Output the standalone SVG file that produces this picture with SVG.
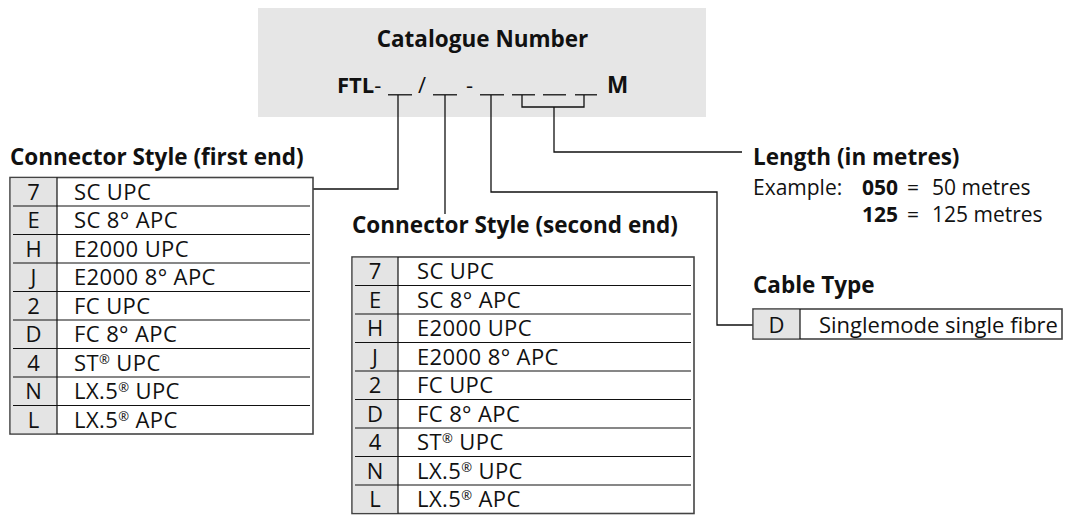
<svg xmlns="http://www.w3.org/2000/svg" width="1077" height="515" viewBox="0 0 1077 515">
<style>
text{font-family:"Open Sans","DejaVu Sans",sans-serif;fill:#111}
.h{font-size:22.5px;font-weight:700}
.t{font-size:22px;font-weight:400;letter-spacing:0.4px}
.c{font-size:22px;font-weight:400;text-anchor:middle}
.e{font-size:21px;font-weight:400}
.b{font-weight:700}
.box{fill:#fff;stroke:#444;stroke-width:1.6}
.code{fill:#e4e4e4}
.sep{stroke:#111;stroke-width:1.2;fill:none}
.ln{stroke:#111;stroke-width:1.3;fill:none}
.reg{font-size:13px}
</style>
<rect x="0" y="0" width="1077" height="515" fill="#fff"/>
<g id="catalogue">
<rect x="258" y="8" width="448" height="109" fill="#e6e6e6"/>
<text class="h" x="482.5" y="46.5" text-anchor="middle">Catalogue Number</text>
<text class="t" x="337" y="93" style="letter-spacing:0"><tspan class="b">FTL</tspan>-</text>
<text class="t" x="418" y="93">/</text>
<text class="t" x="466" y="93">-</text>
<text class="h" x="607" y="93">M</text>
<g class="ln">
<line x1="388" y1="94.8" x2="412" y2="94.8"/>
<line x1="433" y1="94.8" x2="457" y2="94.8"/>
<line x1="480" y1="94.8" x2="504" y2="94.8"/>
<line x1="512" y1="94.8" x2="535" y2="94.8"/>
<line x1="543" y1="94.8" x2="566" y2="94.8"/>
<line x1="575" y1="94.8" x2="597" y2="94.8"/>
</g>
</g>
<g id="connectors" class="ln">
<polyline points="398,95 398,189 313,189"/>
<polyline points="445,95 445,214"/>
<polyline points="491,95 491,192 717,192 717,325 753,325"/>
<polyline points="522,95 522,107 584,107 584,95"/>
<polyline points="554,107 554,152 742,152"/>
</g>
<g id="first-end">
<text class="h" x="10" y="164.5">Connector Style (first end)</text>
<rect class="box" x="10" y="177.5" width="303" height="256.5"/>
<rect class="code" x="10.8" y="178.3" width="46.2" height="254.9"/>
<line class="sep" x1="57" y1="177.5" x2="57" y2="434"/>
<g class="sep">
<line x1="13" y1="206" x2="310" y2="206"/>
<line x1="13" y1="234.5" x2="310" y2="234.5"/>
<line x1="13" y1="263" x2="310" y2="263"/>
<line x1="13" y1="291.5" x2="310" y2="291.5"/>
<line x1="13" y1="320" x2="310" y2="320"/>
<line x1="13" y1="348.5" x2="310" y2="348.5"/>
<line x1="13" y1="377" x2="310" y2="377"/>
<line x1="13" y1="405.5" x2="310" y2="405.5"/>
</g>
<text class="c" x="33.5" y="199.5">7</text>
<text class="c" x="33.5" y="228">E</text>
<text class="c" x="33.5" y="256.5">H</text>
<text class="c" x="33.5" y="285">J</text>
<text class="c" x="33.5" y="313.5">2</text>
<text class="c" x="33.5" y="342">D</text>
<text class="c" x="33.5" y="370.5">4</text>
<text class="c" x="33.5" y="399">N</text>
<text class="c" x="33.5" y="427.5">L</text>
<text class="t" x="74" y="199.5">SC UPC</text>
<text class="t" x="74" y="228">SC 8° APC</text>
<text class="t" x="74" y="256.5">E2000 UPC</text>
<text class="t" x="74" y="285">E2000 8° APC</text>
<text class="t" x="74" y="313.5">FC UPC</text>
<text class="t" x="74" y="342">FC 8° APC</text>
<text class="t" x="74" y="370.5">ST<tspan class="reg" dy="-7">®</tspan><tspan dy="7"> UPC</tspan></text>
<text class="t" x="74" y="399">LX.5<tspan class="reg" dy="-7">®</tspan><tspan dy="7"> UPC</tspan></text>
<text class="t" x="74" y="427.5">LX.5<tspan class="reg" dy="-7">®</tspan><tspan dy="7"> APC</tspan></text>
</g>
<g id="second-end">
<text class="h" x="352" y="233">Connector Style (second end)</text>
<rect class="box" x="352" y="257" width="342" height="256.5"/>
<rect class="code" x="352.8" y="257.8" width="45.2" height="254.9"/>
<line class="sep" x1="398" y1="257" x2="398" y2="513.5"/>
<g class="sep">
<line x1="355" y1="285.5" x2="691" y2="285.5"/>
<line x1="355" y1="314" x2="691" y2="314"/>
<line x1="355" y1="342.5" x2="691" y2="342.5"/>
<line x1="355" y1="371" x2="691" y2="371"/>
<line x1="355" y1="399.5" x2="691" y2="399.5"/>
<line x1="355" y1="428" x2="691" y2="428"/>
<line x1="355" y1="456.5" x2="691" y2="456.5"/>
<line x1="355" y1="485" x2="691" y2="485"/>
</g>
<text class="c" x="375" y="279">7</text>
<text class="c" x="375" y="307.5">E</text>
<text class="c" x="375" y="336">H</text>
<text class="c" x="375" y="364.5">J</text>
<text class="c" x="375" y="393">2</text>
<text class="c" x="375" y="421.5">D</text>
<text class="c" x="375" y="450">4</text>
<text class="c" x="375" y="478.5">N</text>
<text class="c" x="375" y="507">L</text>
<text class="t" x="417" y="279">SC UPC</text>
<text class="t" x="417" y="307.5">SC 8° APC</text>
<text class="t" x="417" y="336">E2000 UPC</text>
<text class="t" x="417" y="364.5">E2000 8° APC</text>
<text class="t" x="417" y="393">FC UPC</text>
<text class="t" x="417" y="421.5">FC 8° APC</text>
<text class="t" x="417" y="450">ST<tspan class="reg" dy="-7">®</tspan><tspan dy="7"> UPC</tspan></text>
<text class="t" x="417" y="478.5">LX.5<tspan class="reg" dy="-7">®</tspan><tspan dy="7"> UPC</tspan></text>
<text class="t" x="417" y="507">LX.5<tspan class="reg" dy="-7">®</tspan><tspan dy="7"> APC</tspan></text>
</g>
<g id="length">
<text class="h" x="753" y="165">Length (in metres)</text>
<text class="e" x="753" y="195">Example:</text>
<text class="e" x="862" y="195"><tspan class="b">050</tspan><tspan x="907">=</tspan><tspan x="932">50 metres</tspan></text>
<text class="e" x="862" y="221.5"><tspan class="b">125</tspan><tspan x="907">=</tspan><tspan x="932">125 metres</tspan></text>
</g>
<g id="cable-type">
<text class="h" x="753" y="293">Cable Type</text>
<rect class="box" x="753" y="309" width="309" height="30"/>
<rect class="code" x="753.8" y="309.8" width="46.2" height="28.4"/>
<line class="sep" x1="800" y1="309" x2="800" y2="339"/>
<text class="c" x="776.5" y="333">D</text>
<text class="t" x="819" y="333" style="letter-spacing:0">Singlemode single fibre</text>
</g>
</svg>
